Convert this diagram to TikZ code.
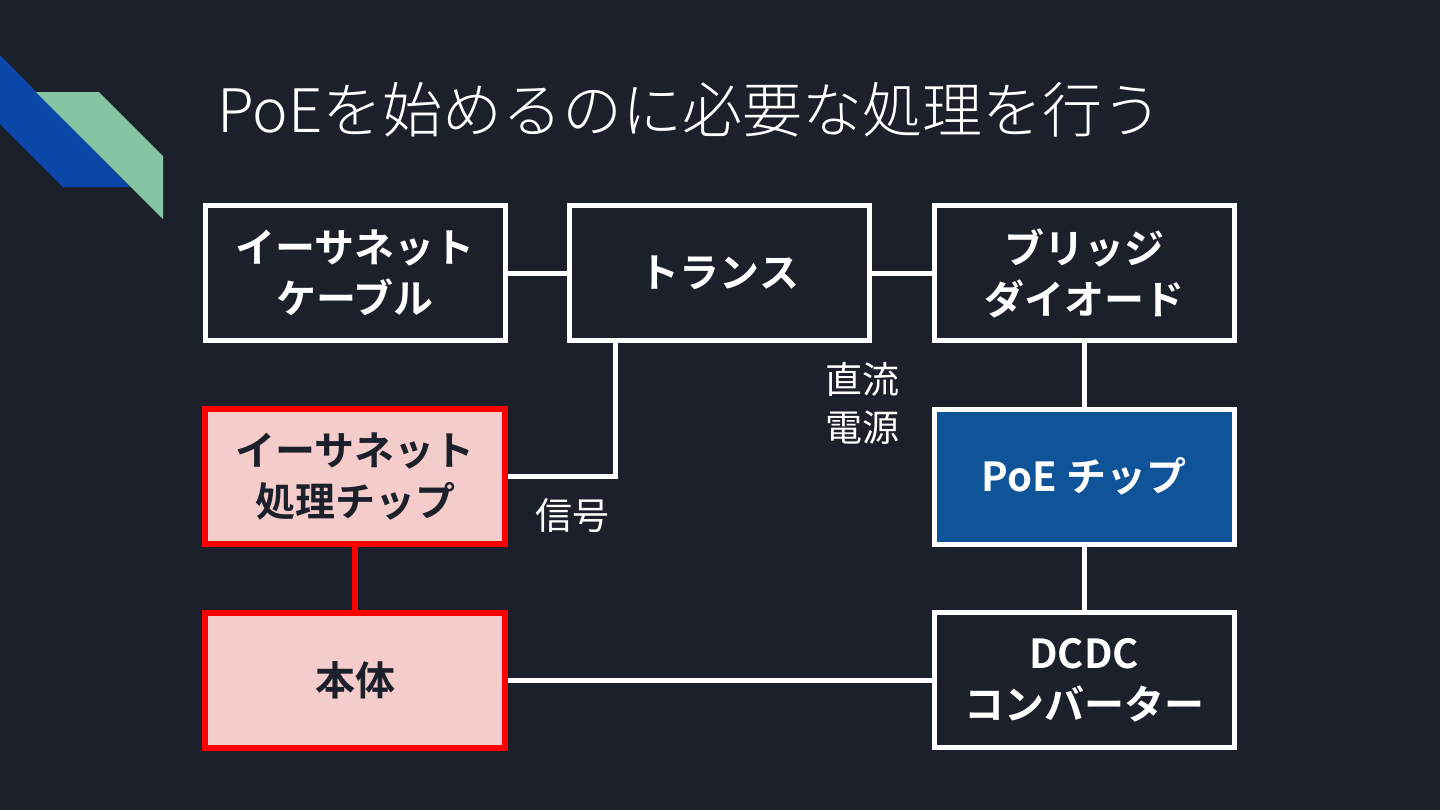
\documentclass[tikz,border=0pt]{standalone}
\usepackage{fontspec}
\setmainfont{Noto Sans CJK JP}
\newfontfamily\jpbold{Noto Sans CJK JP Bold}
\newfontfamily\jplight{Noto Sans CJK JP Light}
\begin{document}
\begin{tikzpicture}[x=0.5pt,y=-0.5pt,
  box/.style={draw=white,line width=2.5pt,fill=bgc,minimum width=150pt,minimum height=67.5pt,inner sep=0pt,align=center,text=white,font=\jpbold\fontsize{20}{25.5}\selectfont},
  redbox/.style={box,draw=boxred,line width=3pt,fill=boxpink,text=bgc},
  bluebox/.style={box,fill=boxblue},
  wire/.style={draw=white,line width=2.5pt},
  redwire/.style={draw=boxred,line width=3pt},
  lbl/.style={text=white,align=center,inner sep=0pt,font=\fontsize{18.5}{24}\selectfont}]
\definecolor{bgc}{HTML}{1C202A}
\definecolor{boxred}{HTML}{FF0000}
\definecolor{boxpink}{HTML}{F4CCCC}
\definecolor{boxblue}{HTML}{0F5499}
\definecolor{decoblue}{HTML}{0B47A8}
\definecolor{decogreen}{HTML}{86C5A4}
\fill[bgc] (0,0) rectangle (1440,810);
\useasboundingbox (0,0) rectangle (1440,810);
% decoration
\fill[decoblue] (-5,55) -- (0,55) -- (130,187) -- (63,187) -- (-5,119) -- cycle;
\fill[decogreen] (36,92) -- (99,92) -- (163,156) -- (163,219) -- cycle;
% title
\node[anchor=west,text=white,inner sep=0pt,font=\jplight\fontsize{30}{36}\selectfont] (title) at (217,110) {PoEを始めるのに必要な処理を行う};
% boxes
\node[box] (cable) at (355,273) {イーサネット\\ケーブル};
\node[box] (trans) at (719.5,273) {トランス};
\node[box] (bridge) at (1084,273) {ブリッジ\\ダイオード};
\node[redbox] (echip) at (355,476.5) {イーサネット\\処理チップ};
\node[bluebox] (poe) at (1084,476.5) {PoE チップ};
\node[redbox] (body) at (355,680) {本体};
\node[box] (dcdc) at (1084,680) {DCDC\\コンバーター};
% connectors
\draw[wire] (cable.east) -- (trans.west);
\draw[wire] (trans.east) -- (bridge.west);
\coordinate (tb) at (615,341);
\draw[wire] (tb) |- (echip.east);
\draw[wire] (bridge) -- (poe);
\draw[wire] (poe) -- (dcdc);
\draw[wire] (body.east) -- (dcdc.west);
\draw[redwire] (echip.south) -- (body.north);
% labels
\node[lbl] (dc) at (862,403) {直流\\電源};
\node[lbl] (sig) at (572,516) {信号};
\end{tikzpicture}
\end{document}
